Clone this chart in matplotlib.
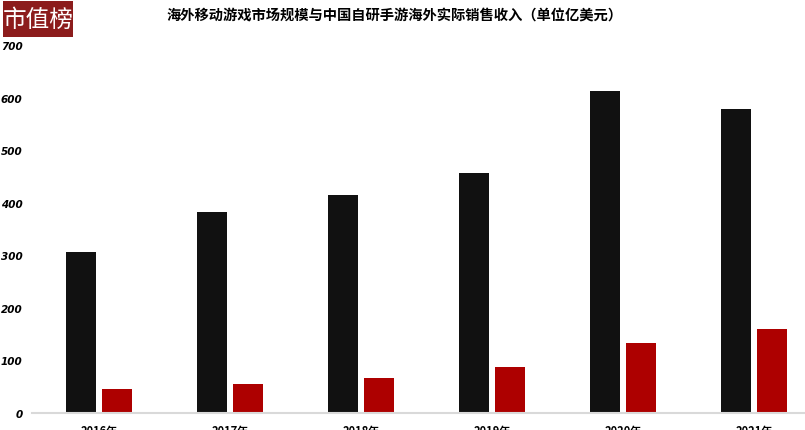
import matplotlib.pyplot as plt
from matplotlib.patches import Rectangle
import numpy as np

plt.rcParams['font.family'] = ['Noto Sans CJK SC', 'DejaVu Sans']

# Data
years = ['2016年', '2017年', '2018年', '2019年', '2020年', '2021年']
market_size = [307, 383, 414, 456, 612, 578]
cn_revenue = [46, 55, 67, 88, 132, 160]
y_ticks = [0, 100, 200, 300, 400, 500, 600, 700]

fig = plt.figure(figsize=(8.05, 4.31), dpi=100)
ax = fig.add_axes([0.04, 0.04, 0.96, 0.853])

x = np.arange(len(years))
w = 0.23
ax.bar(x - 0.14, market_size, width=w, color='#111111')
ax.bar(x + 0.14, cn_revenue, width=w, color='#ad0000')

ax.set_xlim(-0.51, 5.39)
ax.set_ylim(0, 700)
ax.set_yticks(y_ticks)
ax.set_yticklabels([str(v) for v in y_ticks])
for lbl in ax.get_yticklabels():
    lbl.set_fontfamily('DejaVu Sans')
    lbl.set_fontsize(7.5)
    lbl.set_fontweight('bold')
    lbl.set_fontstyle('italic')
ax.set_xticks(x)
ax.set_xticklabels(years, fontsize=8, fontweight='bold')
ax.tick_params(axis='both', length=0)
ax.tick_params(axis='y', pad=7)
ax.tick_params(axis='x', pad=8)

for side in ['top', 'right', 'left']:
    ax.spines[side].set_visible(False)
ax.spines['bottom'].set_color('#d9d9d9')
ax.spines['bottom'].set_linewidth(1.5)

fig.text(0.49, 0.965, '海外移动游戏市场规模与中国自研手游海外实际销售收入（单位亿美元）',
         ha='center', va='center', fontsize=10.3, fontweight='bold')

# logo
fig.patches.append(Rectangle((0.004, 0.912), 0.087, 0.083, transform=fig.transFigure,
                             facecolor='#8c1c1c', edgecolor='none'))
fig.text(0.047, 0.953, '市值榜', ha='center', va='center', fontsize=17, color='white')

fig.savefig('out.png', dpi=100)
